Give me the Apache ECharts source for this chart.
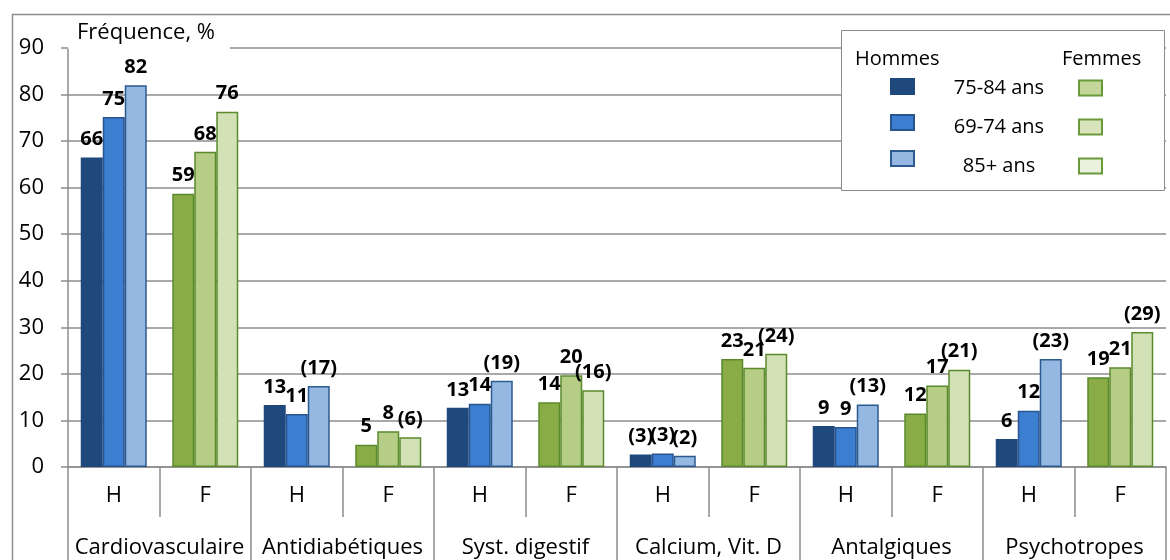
<!DOCTYPE html>
<html>
<head>
<meta charset="utf-8">
<script src="https://cdn.jsdelivr.net/npm/echarts@6/dist/echarts.min.js"></script>
<style>
html,body{margin:0;padding:0;background:#fff;}
#chart{width:1170px;height:560px;}
</style>
</head>
<body>
<div id="chart"></div>
<script>
// groupes de médicaments
var groupes = ['Cardiovasculaire', 'Antidiabétiques', 'Syst. digestif', 'Calcium, Vit. D', 'Antalgiques', 'Psychotropes'];
var sexes = ['H', 'F'];
var ages = ['75-84 ans', '69-74 ans', '85+ ans'];

// hommes, une valeur par groupe
var hommes1 = [66.5, 13.3, 12.7, 2.7, 8.8, 6.0];
var hommes2 = [75.2, 11.4, 13.6, 2.9, 8.6, 12.1];
var hommes3 = [82.0, 17.4, 18.5, 2.4, 13.4, 23.2];
// femmes
var femmes1 = [58.7, 4.8, 13.9, 23.2, 11.5, 19.3];
var femmes2 = [67.7, 7.7, 19.7, 21.3, 17.5, 21.4];
var femmes3 = [76.3, 6.4, 16.5, 24.3, 20.9, 29.0];

// textes des étiquettes
var lblH1 = ['66', '13', '13', '(3)', '9', '6'];
var lblH2 = ['75', '11', '14', '(3)', '9', '12'];
var lblH3 = ['82', '(17)', '(19)', '(2)', '(13)', '(23)'];
var lblF1 = ['59', '5', '14', '23', '12', '19'];
var lblF2 = ['68', '8', '20', '21', '17', '21'];
var lblF3 = ['76', '(6)', '(16)', '(24)', '(21)', '(29)'];

var yTicks = [0, 10, 20, 30, 40, 50, 60, 70, 80, 90];

var FONT = '"Open Sans", sans-serif';

var categories = [];
groupes.forEach(function(g){ sexes.forEach(function(s){ categories.push(s); }); });

// place les valeurs d'un sexe dans les 12 colonnes (H,F,H,F...)
function spread(vals, labels, sexIdx){
    var out = [];
    groupes.forEach(function(g, i){
        sexes.forEach(function(s, j){
            if(j == sexIdx){
                out.push({value: vals[i], lbl: labels[i]});
            }else{
                out.push('-');
            }
        });
    });
    return out;
}

function makeSerie(name, stack, vals, labels, sexIdx, fill, border){
    return {
        name: name,
        type: 'bar',
        stack: stack,
        xAxisIndex: 0,
        barWidth: 22,
        barGap: '0%',
        data: spread(vals, labels, sexIdx),
        itemStyle: {color: fill, borderColor: border, borderWidth: 1.5},
        label: {
            show: true,
            position: 'top',
            distance: 8,
            fontFamily: FONT,
            fontWeight: 'bold',
            fontSize: 20,
            color: '#000',
            formatter: function(p){ return p.data.lbl; }
        }
    };
}

var hColors = ['#1f497d', '#3c7ecf', '#95b8e2'];
var hBorder = ['#1f497d', '#28558f', '#2c5a8f'];
var fColors = ['#8aac47', '#b6cd86', '#d3e2b6'];
var fBorder = ['#5a8a2c', '#5a8a2c', '#5a8a2c'];
var fLegend = ['#c4d79b', '#d8e4bc', '#ebf1de'];

var series = [
    makeSerie('H ' + ages[0], 's1', hommes1, lblH1, 0, hColors[0], hBorder[0]),
    makeSerie(ages[0], 's1', femmes1, lblF1, 1, fColors[0], fBorder[0]),
    makeSerie('H ' + ages[1], 's2', hommes2, lblH2, 0, hColors[1], hBorder[1]),
    makeSerie(ages[1], 's2', femmes2, lblF2, 1, fColors[1], fBorder[1]),
    makeSerie('H ' + ages[2], 's3', hommes3, lblH3, 0, hColors[2], hBorder[2]),
    makeSerie(ages[2], 's3', femmes3, lblF3, 1, fColors[2], fBorder[2])
];

var chart = echarts.init(document.getElementById('chart'));
chart.setOption({
    animation: false,
    backgroundColor: '#fff',
    textStyle: {fontFamily: FONT},
    title: {
        text: 'Fréquence, %',
        left: 68,
        top: 19,
        padding: [3, 15, 5, 9],
        backgroundColor: '#fff',
        textStyle: {fontFamily: FONT, fontSize: 22, fontWeight: 'normal', color: '#000'}
    },
    graphic: [
        {type: 'rect', left: 10, top: 12, shape: {width: 1170, height: 560}, style: {fill: null, stroke: '#8c8c8c', lineWidth: 1.5}, z: 0},
        {type: 'rect', left: 841, top: 30, shape: {width: 323, height: 160}, style: {fill: '#fff', stroke: '#8c8c8c', lineWidth: 1}, z: 5},
        {type: 'text', left: 855, top: 49, style: {text: 'Hommes', font: '20px ' + FONT, fill: '#000'}, z: 6},
        {type: 'text', left: 1062, top: 49, style: {text: 'Femmes', font: '20px ' + FONT, fill: '#000'}, z: 6}
    ],
    legend: [
        {
            data: [
                {name: 'H ' + ages[0], itemStyle: {color: hColors[0], borderColor: hBorder[0]}},
                {name: 'H ' + ages[1], itemStyle: {color: hColors[1], borderColor: hBorder[1]}},
                {name: 'H ' + ages[2], itemStyle: {color: hColors[2], borderColor: hBorder[2]}}
            ],
            orient: 'vertical',
            left: 890,
            top: 78,
            padding: 0,
            itemWidth: 23,
            itemHeight: 15,
            itemGap: 19,
            icon: 'rect',
            selectedMode: false,
            formatter: function(){ return ''; },
            z: 10
        },
        {
            data: [
                {name: ages[0], itemStyle: {color: fLegend[0], borderColor: '#6b9a3a'}},
                {name: ages[1], itemStyle: {color: fLegend[1], borderColor: '#6b9a3a'}},
                {name: ages[2], itemStyle: {color: fLegend[2], borderColor: '#6b9a3a'}}
            ],
            orient: 'vertical',
            left: 924,
            top: 78,
            padding: 0,
            itemWidth: 23,
            itemHeight: 15,
            itemGap: 19,
            align: 'right',
            icon: 'rect',
            selectedMode: false,
            formatter: function(name){ return '{a|' + name + '}'; },
            textStyle: {
                rich: {a: {width: 150, height: 15, lineHeight: 15, align: 'center', fontSize: 20, fontFamily: FONT, color: '#000'}}
            },
            z: 10
        }
    ],
    grid: {left: 68, right: 4, top: 48, bottom: 93, containLabel: false},
    xAxis: [
        {
            type: 'category',
            data: categories,
            position: 'bottom',
            axisLine: {show: true, lineStyle: {color: '#8c8c8c', width: 1.5}},
            axisTick: {show: true, interval: 0, length: 50, lineStyle: {color: '#8c8c8c', width: 1.5}},
            axisLabel: {interval: 0, margin: 18, fontSize: 22, fontFamily: FONT, color: '#000'},
            barCategoryGap: '28%'
        },
        {
            type: 'category',
            data: groupes,
            position: 'bottom',
            axisLine: {show: false},
            axisTick: {show: true, interval: 0, length: 100, lineStyle: {color: '#8c8c8c', width: 1.5}},
            axisLabel: {interval: 0, hideOverlap: false, margin: 70, fontSize: 22, fontFamily: FONT, color: '#000'}
        }
    ],
    yAxis: {
        type: 'value',
        min: yTicks[0],
        max: yTicks[yTicks.length - 1],
        interval: 10,
        axisLine: {show: true, lineStyle: {color: '#8c8c8c', width: 1.5}},
        axisTick: {show: true, length: 7, lineStyle: {color: '#8c8c8c', width: 1.5}},
        axisLabel: {margin: 24, fontSize: 22, fontFamily: FONT, color: '#000'},
        splitLine: {lineStyle: {color: '#8c8c8c', width: 1.5}}
    },
    series: series
});
</script>
</body>
</html>
